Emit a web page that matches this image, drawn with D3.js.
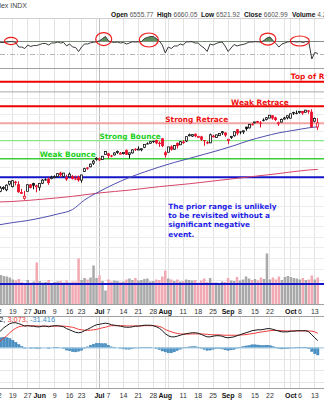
<!DOCTYPE html>
<html><head><meta charset="utf-8">
<script src="https://cdn.jsdelivr.net/npm/d3@7"></script>
<style>body{margin:0;background:#fff}svg{display:block}</style>
</head><body>
<svg id="c" width="324" height="400"></svg>
<script>
// ---------------- DATA ----------------
const dates = ("05-12 05-13 05-14 05-15 05-16 05-19 05-20 05-21 05-22 05-23 05-27 05-28 05-29 05-30 " +
"06-02 06-03 06-04 06-05 06-06 06-09 06-10 06-11 06-12 06-13 06-16 06-17 06-18 06-20 06-23 06-24 06-25 06-26 06-27 06-30 " +
"07-01 07-02 07-03 07-07 07-08 07-09 07-10 07-11 07-14 07-15 07-16 07-17 07-18 07-21 07-22 07-23 07-24 07-25 07-28 07-29 07-30 07-31 " +
"08-01 08-04 08-05 08-06 08-07 08-08 08-11 08-12 08-13 08-14 08-15 08-18 08-19 08-20 08-21 08-22 08-25 08-26 08-27 08-28 08-29 " +
"09-02 09-03 09-04 09-05 09-08 09-09 09-10 09-11 09-12 09-15 09-16 09-17 09-18 09-19 09-22 09-23 09-24 09-25 09-26 09-29 09-30 " +
"10-01 10-02 10-03 10-06 10-07 10-08 10-09 10-10 10-13 10-14").split(" ");

const open = [5807,5854,5886,5869,5929, 5902,5954,5928,5841,5782, 5854,5925,5939,5903,
 5896,5938,5978,5985,5987, 6004,6009,6049,6010,6000, 6005,6013,5987,6005, 5970,6062,6104,6112,6151, 6194,
 6187,6191,6247, 6259,6235,6241,6270,6256, 6255,6295,6247,6264,6309, 6304,6306,6326,6369,6371, 6397,6409,6377,6427,
 6271, 6271,6336,6304,6375,6354, 6390,6397,6462,6453,6478, 6445,6448,6406,6384,6375, 6457,6435,6457,6491,6493,
 6401,6443,6456,6530, 6506,6501,6559,6546,6588, 6607,6626,6607,6640,6644, 6660,6693,6668,6605,6614, 6661,6664,
 6659,6731,6722, 6733,6744,6729,6751,6735, 6624,6556];
const high = [5844,5906,5906,5925,5958, 5968,5963,5958,5878,5858, 5924,5929,5943,5922,
 5937,5981,5990,5999,6016, 6021,6043,6059,6045,6026, 6051,6024,6018,6019, 6026,6101,6108,6146,6187, 6215,
 6211,6227,6285, 6262,6242,6270,6290,6274, 6271,6302,6266,6303,6315, 6336,6310,6359,6381,6390, 6401,6410,6392,6428,
 6287, 6330,6347,6350,6379,6396, 6406,6446,6480,6474,6481, 6455,6456,6407,6394,6481, 6466,6468,6487,6509,6494,
 6421,6455,6502,6533, 6507,6513,6560,6592,6600, 6616,6627,6625,6656,6672, 6696,6693,6676,6619,6654, 6675,6688,
 6711,6735,6750, 6744,6745,6754,6755,6764, 6666,6660];
const low = [5786,5845,5868,5855,5914, 5895,5915,5838,5828,5767, 5854,5883,5874,5843,
 5861,5929,5966,5921,5979, 5994,6000,6002,6003,5963, 6005,5977,5971,5953, 5943,6059,6080,6107,6133, 6178,
 6174,6188,6247, 6201,6216,6237,6253,6249, 6247,6241,6201,6258,6285, 6303,6282,6317,6361,6368, 6375,6360,6331,6327,
 6212, 6271,6288,6303,6312,6354, 6364,6385,6450,6442,6441, 6437,6397,6343,6361,6374, 6437,6431,6455,6466,6444,
 6360,6420,6446,6461, 6473,6478,6513,6540,6575, 6600,6601,6551,6622,6633, 6659,6641,6625,6570,6608, 6645,6645,
 6656,6697,6705, 6712,6699,6725,6711,6550, 6611,6522];
const close = [5844,5887,5893,5917,5958, 5964,5940,5845,5842,5803, 5922,5889,5912,5911,
 5936,5970,5971,5939,6000, 6006,6039,6022,6045,5977, 6033,5983,5981,5968, 6025,6092,6091,6141,6173, 6205,
 6198,6227,6279, 6230,6226,6263,6280,6260, 6269,6244,6264,6297,6296, 6306,6310,6359,6363,6389, 6390,6371,6363,6339,
 6238, 6330,6299,6345,6340,6389, 6373,6446,6467,6469,6450, 6449,6411,6396,6370,6467, 6439,6466,6481,6502,6460,
 6416,6448,6502,6482, 6495,6513,6532,6587,6584, 6615,6607,6600,6632,6664, 6694,6657,6638,6605,6644, 6661,6688,
 6711,6715,6716, 6740,6715,6754,6735,6553, 6655,6603];
// volume, billions of shares
const volume = [6.1,5.9,5.7,5.6,5.4, 5.0,4.8,5.1,4.5,4.3, 4.9,4.4,4.6,8.4,
 4.7,4.4,4.5,4.9,4.3, 4.5,4.6,4.7,4.4,4.8, 4.4,4.6,4.6,9.2, 4.9,5.3,5.0,5.4,7.8, 5.3,
 5.8,4.7,2.8, 5.0,4.6,4.8,4.7,4.5, 4.6,5.0,5.2,4.9,5.3, 4.8,4.9,5.1,5.2,4.6, 4.7,5.0,4.9,5.6,
 6.8, 5.2,5.0,4.7,5.0,4.6, 4.7,5.0,4.9,4.8,4.9, 4.4,4.8,5.2,4.5,5.3, 4.4,4.4,4.3,4.6,4.5,
 5.3,4.8,4.7,5.5, 4.8,5.0,5.6,5.2,4.9, 5.1,4.8,5.4,5.1,10.2, 5.0,5.4,5.0,5.6,4.9, 5.5,5.7,
 5.5,5.3,5.2, 5.0,5.3,4.9,5.0,5.8, 5.0,5.4];
// moving averages read at sample dates
const ma50Dates = ["05-12","05-19","05-27","06-03","06-10","06-17","06-24","07-01","07-09","07-16","07-23","07-30","08-06","08-13","08-20","08-27","09-04","09-11","09-18","09-25","10-02","10-09","10-14"];
const ma50 = [5516,5540,5560,5589,5624,5669,5765,5852,5930,5998,6056,6110,6159,6203,6248,6294,6345,6402,6448,6489,6518,6547,6559];
const ma200Dates = ["05-12","05-19","06-03","06-17","07-01","07-16","07-30","08-13","08-27","09-11","09-25","10-09","10-14"];
const ma200 = [5744,5750,5773,5802,5837,5866,5902,5932,5968,6004,6040,6078,6084];
// RSI(14)
const rsi = [67.7,68.5,68.5,69.0,69.8, 69.9,68.5,61.5,61.5,59.2, 64.6,62.3,63.8,63.8,
 65.4,66.9,66.9,64.6,67.7, 67.7,69.2,67.7,68.5,63.1, 66.2,61.5,60.8,54.6, 61.5,66.2,66.2,68.0,68.8, 69.6,
 71.0,74.6,77.7, 70.8,69.2,68.5,69.2,67.7, 68.5,66.2,67.7,69.5,69.2, 69.5,69.8,74.6,76.2,77.7, 77.7,74.6,70.8,64.6,
 52.3, 61.5,59.2,63.1,63.1,66.2, 64.6,69.2,69.6,69.6,67.7, 67.7,63.1,60.0,54.6,66.2, 64.6,66.9,68.5,69.2,63.1,
 54.6,60.0,65.4,63.1, 64.6,65.4,66.9,69.2,69.2, 69.8,69.5,69.2,71.5,75.4, 76.9,71.5,66.9,61.5,66.2, 67.7,69.5,
 69.8,69.8,69.2, 69.9,68.5,69.8,69.5,43.1, 53.1,51.5];
// MACD(12,26,9)
const macd = [66,75,88,97,106, 110,110,106,101,95, 97,95,95,92,
 92,95,95,92,95, 97,97,95,92,84, 79,73,68,66, 68,75,81,88,95, 101,
 103,106,108, 106,101,99,97,95, 92,90,90,92,95, 95,97,99,99,99, 97,92,86,75,
 62, 53,48,48,51,55, 59,62,64,66,66, 64,59,53,48,48, 51,53,53,51,46,
 44,46,48,53, 57,62,66,70,75, 77,79,79,81,84, 84,81,77,73,70, 70,70,
 73,73,75, 75,75,75,70,57, 44,31.657];
const signal = [22,31,42,53,66, 77,86,92,95,97, 97,97,96,96,
 95,95,95,95,95, 95,95,95,95,94, 92,90,86,81, 79,77,77,77,79, 81,
 84,88,90, 95,97,97,97,97, 97,96,96,96,96, 96,96,97,97,97, 97,96,94,89,
 80, 75,70,66,63,61, 60,60,60,61,61, 61,61,60,59,58, 57,57,57,56,55,
 55,55,55,55, 56,57,58,60,62, 64,67,69,71,73, 75,76,76,76,75, 74,74,
 74,74,74, 74,74,74,74,73, 70,63.073];
const histogram = [44,44,46,44,40, 33,24,14,6,-2, 0,-2,-1,-4,
 -3,0,0,-3,0, 2,2,0,-3,-10, -13,-17,-18,-15, -11,-2,4,11,16, 20,
 19,18,18, 11,4,2,0,-2, -5,-6,-6,-4,-1, -1,1,2,2,2, 0,-4,-8,-14,
 -18, -22,-22,-18,-12,-6, -1,2,4,5,5, 3,-2,-7,-11,-10, -6,-4,-4,-5,-9,
 -11,-9,-7,-2, 1,5,8,10,13, 13,12,10,10,11, 9,5,1,-3,-5, -4,-4,
 -1,-1,1, 1,1,1,-4,-16, -26,-31.416];
// MACD legend values as printed on the chart
const macdLegend = ["MACD(12,26,9) 28.342, ", "3.073, ", "-31.416"];
// axis ticks
const gridDates = ["05-12","05-19","05-27","06-02","06-09","06-16","06-23","06-30","07-01","07-07","07-14","07-21","07-28","08-01","08-04","08-11","08-18","08-25","09-02","09-08","09-15","09-22","09-29","10-01","10-06","10-13"];
const tickDates = ["05-12","05-19","05-27","06-02","06-09","06-16","06-23","07-01","07-07","07-14","07-21","07-28","08-01","08-11","08-18","08-25","09-02","09-08","09-15","09-22","10-01","10-06","10-13"];
const tickLabels = ["12","19","27","Jun","9","16","23","Jul","7","14","21","28","Aug","11","18","25","Sep","8","15","22","Oct","6","13"];
// annotation levels
const levelNames = ["Top of Range","","Weak Retrace","Strong Retrace","Strong Bounce","Weak Bounce",""];
const levelValues = [7100,6975,6800,6600,6400,6200,6000];
const levelLabelDates = ["10-01","","09-03","08-01","07-01","06-02",""];
const volumeLevel = 4.1;
const noteLines = ["The prior range is unlikely","to be revisited without a","significant negative","event."];
const noteDate = "08-04", notePrice = 5677;
// RSI circles [date index, rsi value]
const rsiMarks = [[4.4,70.8],[35.4,73.8],[50.5,72.3],[90.3,73.8],[101,70.8]];
const headerName = "S&P 500 Large Cap Index INDX";
const headerLabels = ["Open","High","Low","Close","Volume"];
const headerValues = ["6555.77","6660.05","6521.92","6602.99","4.2B"];

// ---------------- LAYOUT / STYLE ----------------
const W = 324, H = 400;
const rsiTop = 18.5, rsiBot = 68.5, priceTop = 68.5, priceBot = 304.5, macdTop = 316.5, macdBot = 388.5;
const RED = "#e8102a", BLACK = "#111";
const svg = d3.select("#c");
const FONT = "'Liberation Sans', Arial, sans-serif";
const BFONT = "'DejaVu Sans', Verdana, sans-serif";

const x = d3.scalePoint().domain(dates).range([-2.15, -2.15 + 2.99 * (dates.length - 1)]);
const xi = i => x(dates[0]) + i * x.step();
const yP = d3.scaleLog().domain([6000, 6800]).range([177.3, 106.3]);
const yV = d3.scaleLinear().domain([0, 10]).range([priceBot, priceBot - 50]);
const yR = d3.scaleLinear().domain([30, 100]).range([67.5, 22]);
const yM = d3.scaleLinear().domain([-150, 100]).range([382, 325]);
const crisp = v => Math.round(v - 0.5) + 0.5;

const defs = svg.append("defs");
function clip(id, y0, y1) {
  defs.append("clipPath").attr("id", id).append("rect").attr("x", 0).attr("y", y0).attr("width", W).attr("height", y1 - y0);
}
clip("cR", rsiTop, rsiBot); clip("cP", priceTop, priceBot); clip("cM", macdTop, macdBot);
clip("cR70", rsiTop, yR(70));

function vgrid(g, y0, y1) {
  g.selectAll(null).data(gridDates).enter().append("line")
    .attr("x1", d => crisp(x(d))).attr("x2", d => crisp(x(d)))
    .attr("y1", y0).attr("y2", y1)
    .attr("stroke", d => d === "07-01" ? "#bdbdbd" : "#e3e3e3").attr("stroke-width", 1);
}

// ---------- header ----------
const hg = svg.append("g").attr("font-family", FONT).attr("font-size", 6.6).attr("fill", "#222");
hg.append("text").attr("x", 27).attr("y", 7.5).attr("font-size", 7).attr("text-anchor", "end").attr("fill", "#444").text(headerName);
const headerX = [111, 157, 201, 244, 292];
headerLabels.forEach((lab, i) => {
  const t = hg.append("text").attr("x", headerX[i]).attr("y", 16.5);
  t.append("tspan").attr("font-weight", "bold").attr("fill", "#111").text(lab + " ");
  t.append("tspan").attr("fill", "#555").text(headerValues[i]);
});

// ---------- RSI panel ----------
const gR = svg.append("g").attr("clip-path", "url(#cR)");
vgrid(gR, rsiTop, rsiBot);
gR.append("line").attr("x1", 0).attr("x2", W).attr("y1", crisp(yR(70))).attr("y2", crisp(yR(70))).attr("stroke", "#8a8a8a");
gR.append("line").attr("x1", 0).attr("x2", W).attr("y1", crisp(yR(50))).attr("y2", crisp(yR(50)))
  .attr("stroke", "#b5b5b5").attr("stroke-dasharray", "5,2,1,2");
const rsiArea = d3.area().x((d, i) => x(dates[i])).y0(yR(70)).y1(d => yR(d));
gR.append("path").datum(rsi).attr("d", rsiArea).attr("fill", "#5e8f5e").attr("clip-path", "url(#cR70)");
gR.append("path").datum(rsi).attr("d", d3.line().x((d, i) => x(dates[i])).y(d => yR(d)))
  .attr("fill", "none").attr("stroke", "#3a3a3a").attr("stroke-width", 1);
const markR = [[6.5,3.6],[8,6.5],[9.5,7],[8,6],[9.5,5]];
svg.append("g").selectAll("ellipse").data(rsiMarks).enter().append("ellipse")
  .attr("cx", d => xi(d[0])).attr("cy", d => yR(d[1]))
  .attr("rx", (d, i) => markR[i][0]).attr("ry", (d, i) => markR[i][1])
  .attr("fill", "none").attr("stroke", "#ee1c1c").attr("stroke-width", 1.2);
svg.append("line").attr("x1", 0).attr("x2", W).attr("y1", rsiTop).attr("y2", rsiTop).attr("stroke", "#d0d0d0");

// ---------- Price panel ----------
const gP = svg.append("g").attr("clip-path", "url(#cP)");
vgrid(gP, priceTop, priceBot);
gP.selectAll(null).data(d3.range(5000, 7000, 100)).enter().append("line")
  .attr("x1", 0).attr("x2", W).attr("y1", d => crisp(yP(d))).attr("y2", d => crisp(yP(d)))
  .attr("stroke", "#ececec");
// volume
gP.selectAll(null).data(volume).enter().append("rect")
  .attr("x", (d, i) => x(dates[i]) - 1.25).attr("width", 2.5)
  .attr("y", d => yV(d)).attr("height", d => yV(0) - yV(d))
  .attr("fill", (d, i) => i > 0 && close[i] < close[i - 1] ? "#f1a9b3" : "#a9a9a9");
gP.append("line").attr("x1", 0).attr("x2", W).attr("y1", yV(volumeLevel)).attr("y2", yV(volumeLevel))
  .attr("stroke", "#1414c8").attr("stroke-width", 2);
// levels
const levelStyle = [
  {c:"#ee0000", w:2, t:"#ee1111"}, {c:"#a8a8a8", w:1, t:"#888"}, {c:"#ee0000", w:2, t:"#ee1111"},
  {c:"#f4a3a3", w:2, t:"#ee1111"}, {c:"#86e886", w:1.2, t:"#22d022"}, {c:"#3bd03b", w:1.5, t:"#22d022"},
  {c:"#1414c8", w:2, t:"#1414c8"}];
levelValues.forEach((v, i) => {
  gP.append("line").attr("x1", 0).attr("x2", W).attr("y1", yP(v)).attr("y2", yP(v))
    .attr("stroke", levelStyle[i].c).attr("stroke-width", levelStyle[i].w);
});
// moving averages
const maLine = d3.line().x(d => x(d[0])).y(d => yP(d[1])).curve(d3.curveMonotoneX);
gP.append("path").datum(ma200Dates.map((d, i) => [d, ma200[i]])).attr("d", maLine)
  .attr("fill", "none").attr("stroke", "#d6456a").attr("stroke-width", 1);
gP.append("path").datum(ma50Dates.map((d, i) => [d, ma50[i]])).attr("d", maLine)
  .attr("fill", "none").attr("stroke", "#4f4fae").attr("stroke-width", 1);
// candles
const cg = gP.append("g");
dates.forEach((d, i) => {
  const prev = i > 0 ? close[i - 1] : open[i];
  const col = close[i] < prev ? RED : BLACK;
  const cx = crisp(x(d));
  const top = yP(Math.max(open[i], close[i])), bot = yP(Math.min(open[i], close[i]));
  cg.append("line").attr("x1", cx).attr("x2", cx).attr("y1", yP(high[i])).attr("y2", yP(low[i]))
    .attr("stroke", col).attr("stroke-width", 1);
  const hollow = close[i] >= open[i];
  const bh = Math.max(bot - top, 1);
  if (hollow) {
    cg.append("rect").attr("x", cx - 1).attr("y", top).attr("width", 2).attr("height", bh)
      .attr("fill", "#fff").attr("stroke", col).attr("stroke-width", 0.8);
  } else {
    cg.append("rect").attr("x", cx - 1.4).attr("y", top).attr("width", 2.8).attr("height", bh).attr("fill", col);
  }
});
// level labels
const lg = gP.append("g").attr("font-family", BFONT).attr("font-weight", "bold").attr("font-size", 7.4);
levelNames.forEach((n, i) => {
  if (!n) return;
  lg.append("text").attr("x", x(levelLabelDates[i])).attr("y", yP(levelValues[i]) - (i === 0 ? 2.5 : 1.2))
    .attr("fill", levelStyle[i].t).text(n);
});
const nt = lg.append("text").attr("fill", "#1f1fe6").attr("font-size", 7.3);
noteLines.forEach((t, i) => {
  nt.append("tspan").attr("x", x(noteDate)).attr("y", yP(notePrice) + i * 9.4).text(t);
});
svg.append("line").attr("x1", 0).attr("x2", W).attr("y1", priceTop).attr("y2", priceTop).attr("stroke", "#a0a0a0");
svg.append("line").attr("x1", 0).attr("x2", W).attr("y1", priceBot).attr("y2", priceBot).attr("stroke", "#a0a0a0");

// ---------- date axes ----------
function dateAxis(yb) {
  const g = svg.append("g").attr("font-family", FONT).attr("font-size", 7).attr("text-anchor", "middle");
  g.selectAll(null).data(tickDates).enter().append("text")
    .attr("x", d => x(d)).attr("y", yb)
    .attr("font-weight", (d, i) => isNaN(+tickLabels[i]) ? "bold" : "normal")
    .attr("fill", (d, i) => isNaN(+tickLabels[i]) ? "#111" : "#333")
    .text((d, i) => tickLabels[i]);
}
dateAxis(314);
dateAxis(398);

// ---------- MACD panel ----------
const gM = svg.append("g").attr("clip-path", "url(#cM)");
vgrid(gM, macdTop, macdBot);
gM.selectAll(null).data([-150, -100, -50]).enter().append("line")
  .attr("x1", 0).attr("x2", W).attr("y1", d => crisp(yM(d))).attr("y2", d => crisp(yM(d))).attr("stroke", "#e6e6e6");
gM.selectAll(null).data(histogram).enter().append("rect")
  .attr("x", (d, i) => x(dates[i]) - 1.2).attr("width", 2.4)
  .attr("y", d => Math.min(yM(d), yM(0))).attr("height", d => Math.abs(yM(d) - yM(0)))
  .attr("fill", "#4b93c6").attr("stroke", "#2f78ad").attr("stroke-width", 0.4);
gM.append("line").attr("x1", 0).attr("x2", W).attr("y1", yM(0)).attr("y2", yM(0)).attr("stroke", "#a9cde3").attr("stroke-width", 1.2);
const mLine = d3.line().x((d, i) => x(dates[i])).y(d => yM(d));
gM.append("path").datum(signal).attr("d", mLine).attr("fill", "none").attr("stroke", "#ee3b3b").attr("stroke-width", 1);
gM.append("path").datum(macd).attr("d", mLine).attr("fill", "none").attr("stroke", "#1a1a1a").attr("stroke-width", 1);
const ml = svg.append("text").attr("y", 321.5).attr("font-family", FONT).attr("font-size", 7.4);
const t1 = ml.append("tspan").attr("fill", "#111").text(macdLegend[0]);
const t2 = ml.append("tspan").attr("fill", "#ee3333").text(macdLegend[1]);
ml.append("tspan").attr("fill", "#3a8fd0").text(macdLegend[2]);
const off = t1.node().getComputedTextLength() + t2.node().getComputedTextLength();
ml.attr("x", 30 - off);
svg.append("line").attr("x1", 0).attr("x2", W).attr("y1", macdTop).attr("y2", macdTop).attr("stroke", "#a0a0a0");
svg.append("line").attr("x1", 0).attr("x2", W).attr("y1", macdBot).attr("y2", macdBot).attr("stroke", "#a0a0a0");
</script>
</body></html>
